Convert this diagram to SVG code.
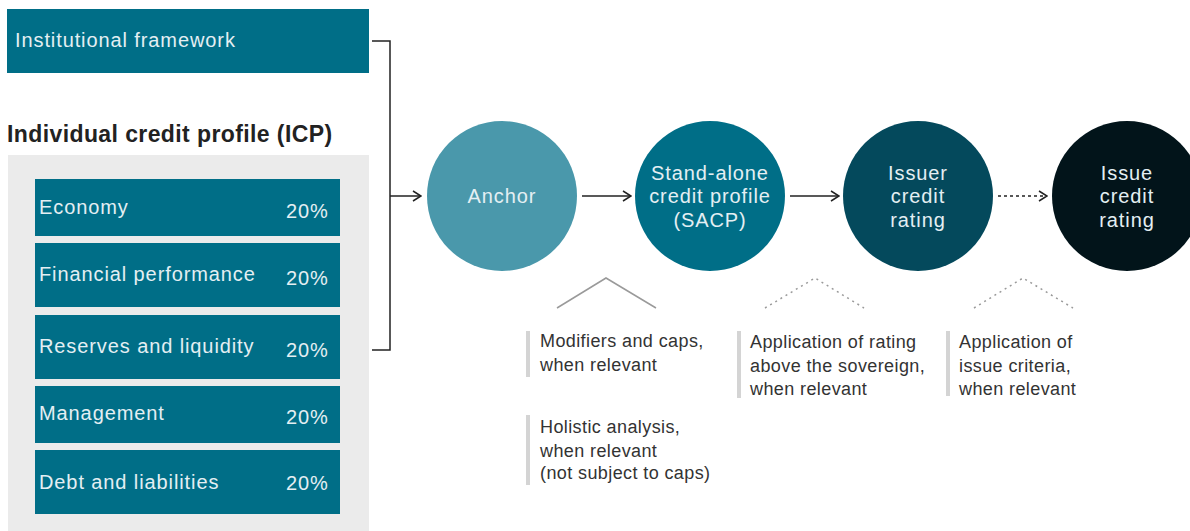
<svg xmlns="http://www.w3.org/2000/svg" width="1190" height="531" viewBox="0 0 1190 531">
<defs>
<style>
.box{fill:#006e87}
.lbl{font-family:"Liberation Sans",Arial,sans-serif;font-size:20px;letter-spacing:0.9px;fill:#e4eff3}
.ctr{text-anchor:middle}
.note{font-family:"Liberation Sans",Arial,sans-serif;font-size:18px;letter-spacing:0.4px;fill:#333}
.bar{fill:#d4d4d4}
.conn{stroke:#222;stroke-width:1.5;fill:none}
.chev{stroke:#9a9a9a;stroke-width:1.5;fill:none}
.dot{stroke-dasharray:2 4}
</style>
<marker id="ah" viewBox="0 0 10 12" refX="9" refY="6" markerWidth="10" markerHeight="12" markerUnits="userSpaceOnUse" orient="auto">
<path d="M1,1 L9,6 L1,11" fill="none" stroke="#222" stroke-width="1.5"/>
</marker>
</defs>
<rect width="1190" height="531" fill="#fff"/>

<g id="institutional">
<rect class="box" x="7" y="9" width="362" height="64"/>
<text class="lbl" x="15" y="47">Institutional framework</text>
</g>

<g id="icp">
<text x="7" y="142" font-family="'Liberation Sans',Arial,sans-serif" font-size="23" letter-spacing="0.4" font-weight="bold" fill="#222">Individual credit profile (ICP)</text>
<rect x="8" y="155" width="361" height="376" fill="#ebebeb"/>
</g>

<g id="economy">
<rect class="box" x="35" y="179" width="305" height="57"/>
<text class="lbl" x="39" y="214">Economy</text>
<text class="lbl" x="286" y="218">20%</text>
</g>
<g id="financial">
<rect class="box" x="35" y="243" width="305" height="64"/>
<text class="lbl" x="39" y="281">Financial performance</text>
<text class="lbl" x="286" y="285">20%</text>
</g>
<g id="reserves">
<rect class="box" x="35" y="315" width="305" height="64"/>
<text class="lbl" x="39" y="353">Reserves and liquidity</text>
<text class="lbl" x="286" y="357">20%</text>
</g>
<g id="management">
<rect class="box" x="35" y="386" width="305" height="57"/>
<text class="lbl" x="39" y="420">Management</text>
<text class="lbl" x="286" y="424">20%</text>
</g>
<g id="debt">
<rect class="box" x="35" y="450" width="305" height="64"/>
<text class="lbl" x="39" y="489">Debt and liabilities</text>
<text class="lbl" x="286" y="490">20%</text>
</g>

<g id="anchor">
<circle cx="502" cy="196" r="75" fill="#4a98ab"/>
<text class="lbl ctr" x="502" y="203">Anchor</text>
</g>
<g id="sacp">
<circle cx="710" cy="196" r="75" fill="#006e87"/>
<text class="lbl ctr" x="710" y="180">Stand-alone</text>
<text class="lbl ctr" x="710" y="203">credit profile</text>
<text class="lbl ctr" x="710" y="227">(SACP)</text>
</g>
<g id="issuer">
<circle cx="918" cy="196" r="75" fill="#04495c"/>
<text class="lbl ctr" x="918" y="180">Issuer</text>
<text class="lbl ctr" x="918" y="203">credit</text>
<text class="lbl ctr" x="918" y="227">rating</text>
</g>
<g id="issue">
<circle cx="1127" cy="196" r="75" fill="#02141a"/>
<text class="lbl ctr" x="1127" y="180">Issue</text>
<text class="lbl ctr" x="1127" y="203">credit</text>
<text class="lbl ctr" x="1127" y="227">rating</text>
</g>

<g id="connectors">
<path class="conn" d="M372,41 H390 V350 H372"/>
<path class="conn" d="M390,196 H421" marker-end="url(#ah)"/>
<path class="conn" d="M582,196 H631" marker-end="url(#ah)"/>
<path class="conn" d="M790,196 H839" marker-end="url(#ah)"/>
<path class="conn" d="M998,196 H1047" stroke-dasharray="3 3" marker-end="url(#ah)"/>
<path class="chev" d="M557,308 L606,278 L656,308"/>
<path class="chev dot" d="M765,308 L815,278 L864,308"/>
<path class="chev dot" d="M974,308 L1023,278 L1073,308"/>
</g>

<g id="note-modifiers">
<rect class="bar" x="526" y="331" width="4" height="46"/>
<text class="note" x="540" y="347">Modifiers and caps,</text>
<text class="note" x="540" y="371">when relevant</text>
</g>
<g id="note-holistic">
<rect class="bar" x="526" y="415" width="4" height="70"/>
<text class="note" x="540" y="433">Holistic analysis,</text>
<text class="note" x="540" y="457">when relevant</text>
<text class="note" x="540" y="479">(not subject to caps)</text>
</g>
<g id="note-sovereign">
<rect class="bar" x="737" y="331" width="4" height="67"/>
<text class="note" x="750" y="348">Application of rating</text>
<text class="note" x="750" y="372">above the sovereign,</text>
<text class="note" x="750" y="395">when relevant</text>
</g>
<g id="note-issue">
<rect class="bar" x="946" y="331" width="4" height="65"/>
<text class="note" x="959" y="348">Application of</text>
<text class="note" x="959" y="372">issue criteria,</text>
<text class="note" x="959" y="395">when relevant</text>
</g>
</svg>
